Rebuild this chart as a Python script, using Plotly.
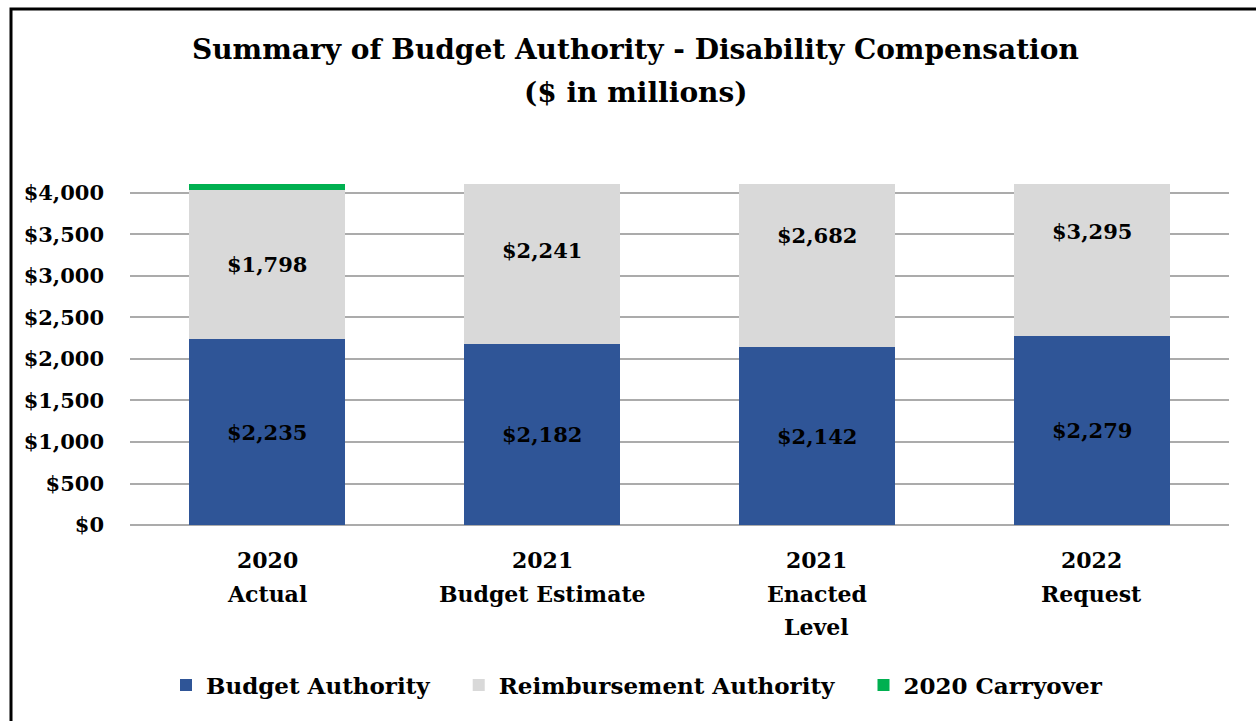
import plotly.graph_objects as go

# Budget authority by fiscal-year column ($ in millions)
categories = ["2020<br>Actual", "2021<br>Budget Estimate", "2021<br>Enacted<br>Level", "2022<br>Request"]
budget_authority = [2235, 2182, 2142, 2279]
reimbursement_authority = [1798, 2241, 2682, 3295]
carryover_2020 = [75, 0, 0, 0]
y_tick_values = [0, 500, 1000, 1500, 2000, 2500, 3000, 3500, 4000]
series_names = ["Budget Authority", "Reimbursement Authority", "2020 Carryover"]

BLUE = "#2F5597"
GREY = "#D9D9D9"
GREEN = "#00B050"
FONT = "DejaVu Serif"

W, H = 1256, 721
PL, PR, PT, PB = 130, 1229, 184, 525   # plot-area edges in pixels
Y_MAX = 4108
LABEL_CEILING = 3540                   # keep segment labels inside the visible area
LEGEND_PAD = "\u00a0" * 3              # extra room between legend entries


def px_x(x):
    return (x - PL) / (PR - PL)


def px_y(y):
    return (PB - y) / (PB - PT)


def legend_name(i):
    return series_names[i] + (LEGEND_PAD if i < len(series_names) - 1 else "")


fig = go.Figure()
fig.add_bar(x=categories, y=budget_authority, name=legend_name(0),
            marker=dict(color=BLUE, line=dict(width=0)))
fig.add_bar(x=categories, y=reimbursement_authority, name=legend_name(1),
            marker=dict(color=GREY, line=dict(width=0)))
fig.add_bar(x=categories, y=carryover_2020, name=legend_name(2),
            marker=dict(color=GREEN, line=dict(width=0)))

annotations = []
label_font = dict(family=FONT, size=21, color="black", weight="bold")

# Segment value labels
for cat, ba, ra in zip(categories, budget_authority, reimbursement_authority):
    annotations.append(dict(x=cat, y=ba / 2, xref="x", yref="y", text=f"${ba:,}",
                            showarrow=False, font=label_font))
    mid = min(ba + ra / 2, LABEL_CEILING)
    annotations.append(dict(x=cat, y=mid, xref="x", yref="y", text=f"${ra:,}",
                            showarrow=False, font=label_font))

# Category labels, one annotation per line for wider line spacing
for cat in categories:
    for i, line in enumerate(cat.split("<br>")):
        annotations.append(dict(x=cat, xref="x", y=0, yref="paper", yanchor="middle",
                                yshift=-(35 + i * 33.5), text=line, showarrow=False,
                                font=dict(family=FONT, size=22, color="black", weight="bold")))

# Title lines
title_font = dict(family=FONT, size=28, color="black", weight="bold")
annotations.append(dict(x=px_x(635), y=px_y(50), xref="paper", yref="paper",
                        text="Summary of Budget Authority - Disability Compensation",
                        showarrow=False, yanchor="middle", font=title_font))
annotations.append(dict(x=px_x(635), y=px_y(92), xref="paper", yref="paper",
                        text="($ in millions)", showarrow=False, yanchor="middle",
                        font=title_font))

fig.update_layout(
    width=W, height=H,
    margin=dict(l=PL, r=W - PR, t=PT, b=H - PB, pad=0),
    paper_bgcolor="white", plot_bgcolor="white",
    barmode="stack", bargap=0.432,
    showlegend=True,
    legend=dict(orientation="h", xref="container", yref="container",
                x=637 / W, xanchor="center", y=1 - 685 / H, yanchor="middle",
                font=dict(family=FONT, size=23, color="black", weight="bold"),
                traceorder="normal", itemclick=False, itemdoubleclick=False),
    xaxis=dict(showticklabels=False, showgrid=False, showline=False, zeroline=False,
               fixedrange=True),
    yaxis=dict(range=[0, Y_MAX], tickvals=y_tick_values,
               ticktext=[f"${v:,}" for v in y_tick_values],
               showgrid=True, gridcolor="#ABABAB", gridwidth=1.5,
               zeroline=True, zerolinecolor="#ABABAB", zerolinewidth=1.5,
               showline=False, ticks="", ticklabelstandoff=25,
               tickfont=dict(family=FONT, size=21, color="black", weight="bold"),
               fixedrange=True),
    annotations=annotations,
    shapes=[dict(type="rect", xref="paper", yref="paper",
                 x0=px_x(11), x1=px_x(W + 20), y0=px_y(H + 20), y1=px_y(9),
                 line=dict(color="black", width=3), fillcolor="rgba(0,0,0,0)", layer="above")],
    hovermode=False,
)

fig.write_html("out.html", config=dict(displayModeBar=False))
